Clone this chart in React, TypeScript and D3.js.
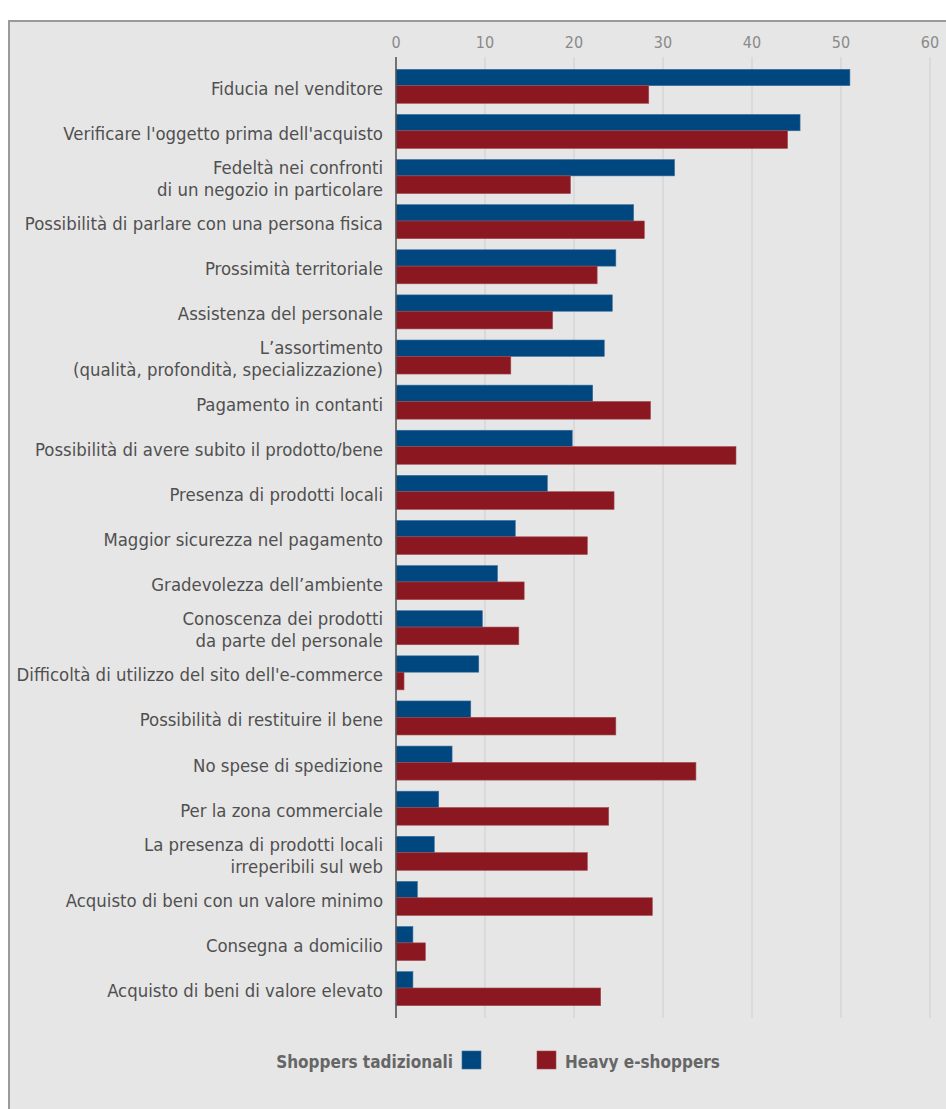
import React from "react";
import * as d3 from "d3";

const categories: string[][] = [
  ["Fiducia nel venditore"],
  ["Verificare l'oggetto prima dell'acquisto"],
  ["Fedeltà nei confronti", "di un negozio in particolare"],
  ["Possibilità di parlare con una persona fisica"],
  ["Prossimità territoriale"],
  ["Assistenza del personale"],
  ["L\u2019assortimento", "(qualità, profondità, specializzazione)"],
  ["Pagamento in contanti"],
  ["Possibilità di avere subito il prodotto/bene"],
  ["Presenza di prodotti locali"],
  ["Maggior sicurezza nel pagamento"],
  ["Gradevolezza dell\u2019ambiente"],
  ["Conoscenza dei prodotti", "da parte del personale"],
  ["Difficoltà di utilizzo del sito dell'e-commerce"],
  ["Possibilità di restituire il bene"],
  ["No spese di spedizione"],
  ["Per la zona commerciale "],
  ["La presenza di prodotti locali", "irreperibili sul web"],
  ["Acquisto di beni con un valore minimo"],
  ["Consegna a domicilio"],
  ["Acquisto di beni di valore elevato"],
];

const traditional: number[] = [
  51.0, 45.4, 31.3, 26.7, 24.7, 24.3, 23.4, 22.1, 19.8, 17.0, 13.4, 11.4, 9.7, 9.3, 8.4, 6.3, 4.8, 4.3, 2.4, 1.9, 1.9,
];
const heavy: number[] = [
  28.4, 44.0, 19.6, 27.9, 22.6, 17.6, 12.9, 28.6, 38.2, 24.5, 21.5, 14.4, 13.8, 0.9, 24.7, 33.7, 23.9, 21.5, 28.8, 3.3, 23.0,
];
const xTicks: number[] = [0, 10, 20, 30, 40, 50, 60];
const seriesNames: string[] = ["Shoppers tadizionali", "Heavy e-shoppers"];

const BLUE = "#00467f";
const RED = "#8b1821";
const FONT = "'Liberation Sans Narrow', 'DejaVu Sans Condensed', 'Arial Narrow', sans-serif";

export default function App() {
  const W = 946;
  const H = 1109;
  const keys = categories.map((c) => c.join(" "));
  const x = d3.scaleLinear().domain([0, 60]).range([396, 930]);
  const y = d3
    .scaleBand<string>()
    .domain(keys)
    .range([57, 1018])
    .paddingInner(0.246)
    .paddingOuter(0.273);
  const bw = y.bandwidth();
  const blueH = bw * 0.48;
  const redH = bw - blueH;

  return (
    <svg
      width={W}
      height={H}
      style={{ position: "absolute", left: 0, top: 0, display: "block" }}
      fontFamily={FONT}
    >
      <rect x={0} y={0} width={W} height={H} fill="#ffffff" />
      <rect x={9} y={21} width={W + 10} height={H} fill="#e6e6e6" stroke="#9a9a9a" strokeWidth={2} />

      {/* gridlines */}
      {xTicks.map((t) => (
        <g key={t}>
          {t > 0 && (
            <line x1={x(t)} x2={x(t)} y1={57} y2={1018} stroke="#d2d2d2" strokeWidth={1.2} />
          )}
          <text
            x={x(t)}
            y={48}
            textAnchor="middle"
            fontSize={16}
            fill="#8a8a8a"
          >
            {t}
          </text>
        </g>
      ))}

      {/* bars */}
      {keys.map((k, i) => (
        <g key={k}>
          <rect
            x={x(0)}
            y={y(k)!}
            width={x(traditional[i]) - x(0)}
            height={blueH}
            fill={BLUE}
            stroke="#3a6d9a"
            strokeWidth={0.6}
          />
          <rect
            x={x(0)}
            y={y(k)! + blueH}
            width={x(heavy[i]) - x(0)}
            height={redH}
            fill={RED}
            stroke="#a04c52"
            strokeWidth={0.6}
          />
        </g>
      ))}

      {/* axis line */}
      <line x1={x(0)} x2={x(0)} y1={57} y2={1018} stroke="#555" strokeWidth={1.6} />

      {/* labels */}
      {categories.map((lines, i) => {
        const cy = y(keys[i])! + bw / 2 + 2;
        const lh = 22;
        return (
          <text key={keys[i]} x={383} textAnchor="end" fontSize={18.4} fill="#505050">
            {lines.map((ln, j) => (
              <tspan key={j} x={383} y={cy + (j - (lines.length - 1) / 2) * lh} dy="0.35em">
                {ln}
              </tspan>
            ))}
          </text>
        );
      })}

      {/* legend */}
      <g fontWeight="bold" fontSize={17} fill="#666">
        <text x={453} y={1062} dy="0.35em" textAnchor="end">
          {seriesNames[0]}
        </text>
        <rect x={462} y={1051} width={19} height={18} fill={BLUE} stroke="#3a6d9a" strokeWidth={0.6} />
        <rect x={537} y={1051} width={19} height={18} fill={RED} stroke="#a04c52" strokeWidth={0.6} />
        <text x={565} y={1062} dy="0.35em">
          {seriesNames[1]}
        </text>
      </g>
    </svg>
  );
}
